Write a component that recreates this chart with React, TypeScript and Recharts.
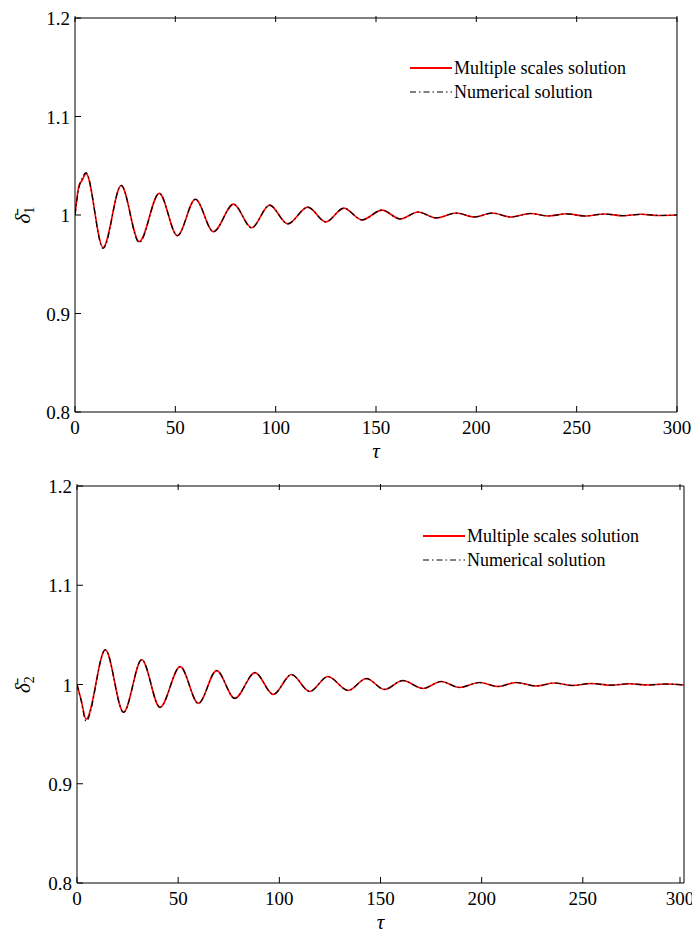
import React from "react";
import { LineChart, Line, XAxis, YAxis } from "recharts";

const tau1 = [0, 2, 3.5, 5.5, 14, 23, 32, 42, 51, 60, 69, 79, 88, 97, 106, 116, 125, 134, 143, 153, 162, 171, 180, 190, 199, 208, 217, 227, 236, 245, 254, 264, 273, 282, 291, 300];
const ms1 = [1.0, 1.03, 1.035, 1.042, 0.967, 1.03, 0.973, 1.022, 0.979, 1.016, 0.983, 1.011, 0.987, 1.01, 0.991, 1.008, 0.993, 1.007, 0.995, 1.005, 0.996, 1.003, 0.997, 1.002, 0.998, 1.002, 0.998, 1.0015, 0.999, 1.0012, 0.999, 1.001, 0.9993, 1.0007, 0.9995, 1.0];
const num1 = [1.0, 1.028, 1.037, 1.043, 0.966, 1.03, 0.972, 1.022, 0.979, 1.016, 0.983, 1.011, 0.987, 1.01, 0.991, 1.008, 0.993, 1.007, 0.995, 1.005, 0.996, 1.003, 0.997, 1.002, 0.998, 1.002, 0.998, 1.0015, 0.999, 1.0012, 0.999, 1.001, 0.9993, 1.0007, 0.9995, 1.0];

const tau2 = [0, 2, 4.5, 14, 23, 32, 41, 51, 60, 69, 78, 88, 97, 106, 115, 124, 134, 143, 152, 161, 171, 180, 189, 199, 208, 217, 227, 236, 245, 254, 264, 273, 282, 291, 300];
const ms2 = [1.0, 0.985, 0.965, 1.035, 0.972, 1.025, 0.977, 1.018, 0.981, 1.014, 0.986, 1.012, 0.99, 1.01, 0.993, 1.008, 0.994, 1.006, 0.995, 1.004, 0.996, 1.003, 0.997, 1.002, 0.998, 1.002, 0.9985, 1.0015, 0.999, 1.001, 0.9993, 1.0008, 0.9995, 1.0005, 0.9995];
const num2 = [1.0, 0.984, 0.963, 1.035, 0.972, 1.025, 0.977, 1.018, 0.981, 1.014, 0.986, 1.012, 0.99, 1.01, 0.993, 1.008, 0.994, 1.006, 0.995, 1.004, 0.996, 1.003, 0.997, 1.002, 0.998, 1.002, 0.9985, 1.0015, 0.999, 1.001, 0.9993, 1.0008, 0.9995, 1.0005, 0.9995];

const xTicks = [0, 50, 100, 150, 200, 250, 300];
const yTicks = [0.8, 0.9, 1.0, 1.1, 1.2];
const yLabels = ["0.8", "0.9", "1", "1.1", "1.2"];

const font = "'Liberation Serif', 'DejaVu Serif', serif";
const ts = { fontFamily: font };

const BottomTick = (p: any) => (
  <g>
    <line x1={p.x} y1={p.y} x2={p.x} y2={p.y - 6} stroke="#000" />
    <text x={p.x} y={p.y + 22} textAnchor="middle" fontSize={19} style={ts} fill="#000">{p.payload.value}</text>
  </g>
);
const LeftTick = (p: any) => (
  <g>
    <line x1={p.x} y1={p.y} x2={p.x + 6} y2={p.y} stroke="#000" />
    <text x={p.x - 5} y={p.y + 7} textAnchor="end" fontSize={19} style={ts} fill="#000">
      {yLabels[yTicks.indexOf(p.payload.value)]}
    </text>
  </g>
);
const TopTick = (p: any) => <line x1={p.x} y1={p.y} x2={p.x} y2={p.y + 6} stroke="#000" />;
const RightTick = (p: any) => <line x1={p.x} y1={p.y} x2={p.x - 6} y2={p.y} stroke="#000" />;

const LegendBox = ({ left, top }: any) => (
  <div style={{ position: "absolute", left, top, fontFamily: font, fontSize: 18, lineHeight: "24px" }}>
    <div style={{ display: "flex", alignItems: "center" }}>
      <svg width={46} height={10}><line x1={2} y1={5} x2={44} y2={5} stroke="#ff0000" strokeWidth={2} /></svg>
      <span>Multiple scales solution</span>
    </div>
    <div style={{ display: "flex", alignItems: "center" }}>
      <svg width={46} height={10}><line x1={2} y1={5} x2={44} y2={5} stroke="#000" strokeDasharray="6 3 1.5 3" /></svg>
      <span>Numerical solution</span>
    </div>
  </div>
);

const Panel = ({ tau, ms, num, sub, margin, height }: any) => {
  const data = tau.map((t: number, i: number) => ({ tau: t, ms: ms[i], num: num[i] }));
  return (
    <LineChart width={692} height={height} data={data} margin={margin} style={{ fontFamily: font }}>
      <XAxis xAxisId="b" dataKey="tau" type="number" domain={[0, 300]} ticks={xTicks} tick={<BottomTick />}
        tickLine={false} tickSize={0} tickMargin={0} stroke="#000" allowDataOverflow height={50}
        label={{
          content: (lp: any) => {
            const vb = lp.viewBox;
            return (
              <text x={vb.x + vb.width / 2} y={vb.y + 46} textAnchor="middle" fontSize={21} fontStyle="italic" style={ts} fill="#000">τ</text>
            );
          },
        }} />
      <XAxis xAxisId="t" orientation="top" dataKey="tau" type="number" domain={[0, 300]} ticks={xTicks} tick={<TopTick />}
        tickLine={false} tickSize={0} stroke="#000" height={1} />
      <YAxis yAxisId="l" type="number" domain={[0.8, 1.2]} ticks={yTicks} tick={<LeftTick />} tickLine={false}
        tickSize={0} tickMargin={0} stroke="#000" width={40} allowDataOverflow
        label={{
          content: (lp: any) => {
            const vb = lp.viewBox;
            const cx = 24, cy = vb.y + vb.height / 2;
            return (
              <text transform={`rotate(-90 ${cx} ${cy})`} x={cx} y={cy + 6} textAnchor="middle" style={ts} fontSize={21} fill="#000">
                <tspan fontStyle="italic">δ̄</tspan><tspan fontSize={14} dy={4}>{sub}</tspan>
              </text>
            );
          },
        }} />
      <YAxis yAxisId="r" orientation="right" type="number" domain={[0.8, 1.2]} ticks={yTicks} tick={<RightTick />}
        tickLine={false} tickSize={0} stroke="#000" width={1} />
      <Line xAxisId="b" yAxisId="l" type="monotone" dataKey="ms" stroke="#ff0000" strokeWidth={1.6} dot={false} isAnimationActive={false} />
      <Line xAxisId="b" yAxisId="l" type="monotone" dataKey="num" stroke="#000" strokeWidth={1.2} strokeDasharray="6 3 1.5 3" dot={false} isAnimationActive={false} />
    </LineChart>
  );
};

export default function App() {
  return (
    <div style={{ position: "absolute", left: 0, top: 0, width: 692, height: 938, background: "#fff", overflow: "hidden" }}>
      <div style={{ position: "absolute", left: 0, top: 0 }}>
        <Panel tau={tau1} ms={ms1} num={num1} sub="1" height={470}
          margin={{ top: 17, right: 14, left: 35, bottom: 8 }} />
      </div>
      <LegendBox left={408} top={56} />
      <div style={{ position: "absolute", left: 0, top: 470 }}>
        <Panel tau={tau2} ms={ms2} num={num2} sub="2" height={500}
          margin={{ top: 15, right: 7, left: 37, bottom: 37 }} />
      </div>
      <LegendBox left={421} top={524} />
    </div>
  );
}
